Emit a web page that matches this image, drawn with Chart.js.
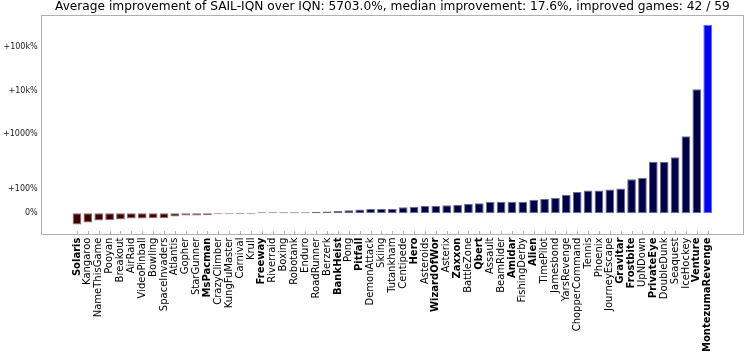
<!DOCTYPE html>
<html>
<head>
<meta charset="utf-8">
<script src="https://cdn.jsdelivr.net/npm/chart.js@4.4.1/dist/chart.umd.min.js"></script>
<style>
  html, body { margin: 0; padding: 0; background: #fff; }
</style>
</head>
<body>
<canvas id="improvementChart" width="748" height="358"></canvas>
<script>
const games = [
    'Solaris', 'Kangaroo', 'NameThisGame', 'Pooyan', 'Breakout', 'AirRaid', 'VideoPinball', 'Bowling',
    'SpaceInvaders', 'Atlantis', 'Gopher', 'StarGunner', 'MsPacman', 'CrazyClimber', 'KungFuMaster',
    'Carnival', 'Krull', 'Freeway', 'Riverraid', 'Boxing', 'Robotank', 'Enduro', 'RoadRunner', 'Berzerk',
    'BankHeist', 'Pong', 'Pitfall', 'DemonAttack', 'Skiing', 'Tutankham', 'Centipede', 'Hero', 'Asteroids',
    'WizardOfWor', 'Asterix', 'Zaxxon', 'BattleZone', 'Qbert', 'Assault', 'BeamRider', 'Amidar',
    'FishingDerby', 'Alien', 'TimePilot', 'Jamesbond', 'YarsRevenge', 'ChopperCommand', 'Tennis', 'Phoenix',
    'JourneyEscape', 'Gravitar', 'Frostbite', 'UpNDown', 'PrivateEye', 'DoubleDunk', 'Seaquest', 'IceHockey',
    'Venture', 'MontezumaRevenge'
];

// improvement of SAIL-IQN over IQN, in percent
const improvement = [
    -46.8, -38.5, -30.2, -29, -26, -22, -21.5, -21,
    -20.5, -13.7, -9.5, -9, -8, -4, -2,
    -1.5, -0.3, 0.5, 0.6, 0.8, 1, 1.5, 5, 7,
    9.5, 12, 15, 17, 17.3, 17.6, 25, 27, 30,
    30, 33, 34.5, 38.6, 41, 47, 47, 47,
    47, 55, 59, 63.5, 76, 87, 94, 94,
    98, 102, 140, 145, 235, 232, 295, 899,
    10640, 322900
];

const boldGames = [
    'Solaris', 'MsPacman', 'Freeway', 'BankHeist', 'Pitfall', 'Hero', 'WizardOfWor', 'Zaxxon',
    'Qbert', 'Amidar', 'Alien', 'Gravitar', 'Frostbite', 'PrivateEye', 'Venture', 'MontezumaRevenge'
];

const yTickValues = [0, 100, 1000, 10000, 100000];
const yTickLabels = ['0%', '+100%', '+1000%', '+10k%', '+100k%'];

const titleText = 'Average improvement of SAIL-IQN over IQN: 5703.0%, median improvement: 17.6%, improved games: 42 / 59';

// symmetric log, like matplotlib's symlog (linthresh 200%, linscale 1)
const LINTHRESH = 200;
const LINSCALE = 1 / (1 - 1 / 10);

function symlog(v) {
    const a = Math.abs(v);
    return Math.sign(v) * (a <= LINTHRESH ? a / LINTHRESH * LINSCALE : LINSCALE + Math.log10(a / LINTHRESH));
}

function symexp(t) {
    const a = Math.abs(t);
    return Math.sign(t) * (a <= LINSCALE ? a / LINSCALE * LINTHRESH : LINTHRESH * Math.pow(10, a - LINSCALE));
}

class SymlogScale extends Chart.LinearScale {
    static id = 'symlog';

    buildTicks() {
        return yTickValues.map(value => ({ value }));
    }

    configure() {
        super.configure();
        this._tMin = symlog(this.min);
        this._tMax = symlog(this.max);
    }

    getPixelForValue(value) {
        return this.getPixelForDecimal((symlog(value) - this._tMin) / (this._tMax - this._tMin));
    }

    getValueForPixel(pixel) {
        return symexp(this._tMin + this.getDecimalForPixel(pixel) * (this._tMax - this._tMin));
    }
}
Chart.register(SymlogScale);

// 5% margins like matplotlib, in transformed space
const tLow = symlog(Math.min(...improvement));
const tHigh = symlog(Math.max(...improvement));
const tPad = 0.05 * (tHigh - tLow);
const xPad = 0.05 * (games.length - 1 + 0.8);

const maxIndex = improvement.indexOf(Math.max(...improvement));

function fillFor(v, i) {
    if (i === maxIndex) return [0, 0, 255];
    return v < 0 ? [64, 0, 0] : [0, 0, 72];
}

function rgb(c) {
    return `rgb(${c[0]}, ${c[1]}, ${c[2]})`;
}

function edgeFor(v, i) {
    const c = fillFor(v, i);
    return rgb(c.map(ch => Math.round(ch + (255 - ch) * 0.42)));
}

const axesBox = {
    id: 'axesBox',
    afterDraw(chart) {
        const { ctx, chartArea: a } = chart;
        const x = chart.scales.x;
        ctx.save();
        ctx.strokeStyle = '#b0b0b0';
        ctx.lineWidth = 1;
        ctx.strokeRect(Math.round(a.left) + 0.5, Math.round(a.top) + 0.5,
            Math.round(a.right - a.left) - 1, Math.round(a.bottom - a.top) - 1);
        ctx.beginPath();
        x.ticks.forEach(t => {
            const px = Math.round(x.getPixelForValue(t.value)) + 0.5;
            ctx.moveTo(px, a.bottom);
            ctx.lineTo(px, a.bottom - 3.5);
        });
        ctx.stroke();
        ctx.restore();
    }
};

const ctx = document.getElementById('improvementChart').getContext('2d');

new Chart(ctx, {
    type: 'bar',
    data: {
        datasets: [{
            data: improvement.map((v, i) => ({ x: i, y: v })),
            backgroundColor: improvement.map((v, i) => rgb(fillFor(v, i))),
            borderColor: improvement.map((v, i) => edgeFor(v, i)),
            borderWidth: 1,
            borderSkipped: false,
            minBarLength: 1,
            barPercentage: 0.8,
            categoryPercentage: 1.0
        }]
    },
    options: {
        responsive: false,
        animation: false,
        layout: { padding: { left: 0, right: 4, top: 0, bottom: 3 } },
        plugins: {
            legend: { display: false },
            tooltip: { enabled: false },
            title: {
                display: true,
                text: titleText,
                fullSize: false,
                color: '#000',
                font: { family: 'DejaVu Sans', size: 12.2, weight: 'normal' },
                padding: { top: 0, bottom: 0 }
            }
        },
        scales: {
            x: {
                type: 'linear',
                offset: false,
                min: -0.4 - xPad,
                max: games.length - 1 + 0.4 + xPad,
                afterBuildTicks: scale => {
                    scale.ticks = games.map((_, i) => ({ value: i }));
                },
                grid: { display: false, drawTicks: false, offset: false },
                border: { display: false },
                ticks: {
                    autoSkip: false,
                    minRotation: 90,
                    maxRotation: 90,
                    padding: 3,
                    color: '#000',
                    callback: value => games[value],
                    font: c => ({
                        family: 'DejaVu Sans',
                        size: 10,
                        weight: c.tick && boldGames.includes(games[c.tick.value]) ? 'bold' : 'normal'
                    })
                }
            },
            y: {
                type: 'symlog',
                min: symexp(tLow - tPad),
                max: symexp(tHigh + tPad),
                grid: { display: false, drawTicks: false },
                border: { display: false },
                ticks: {
                    padding: 3,
                    color: '#222',
                    font: { family: 'DejaVu Sans', size: 8 },
                    callback: value => yTickLabels[yTickValues.indexOf(value)]
                }
            }
        }
    },
    plugins: [axesBox]
});
</script>
</body>
</html>
